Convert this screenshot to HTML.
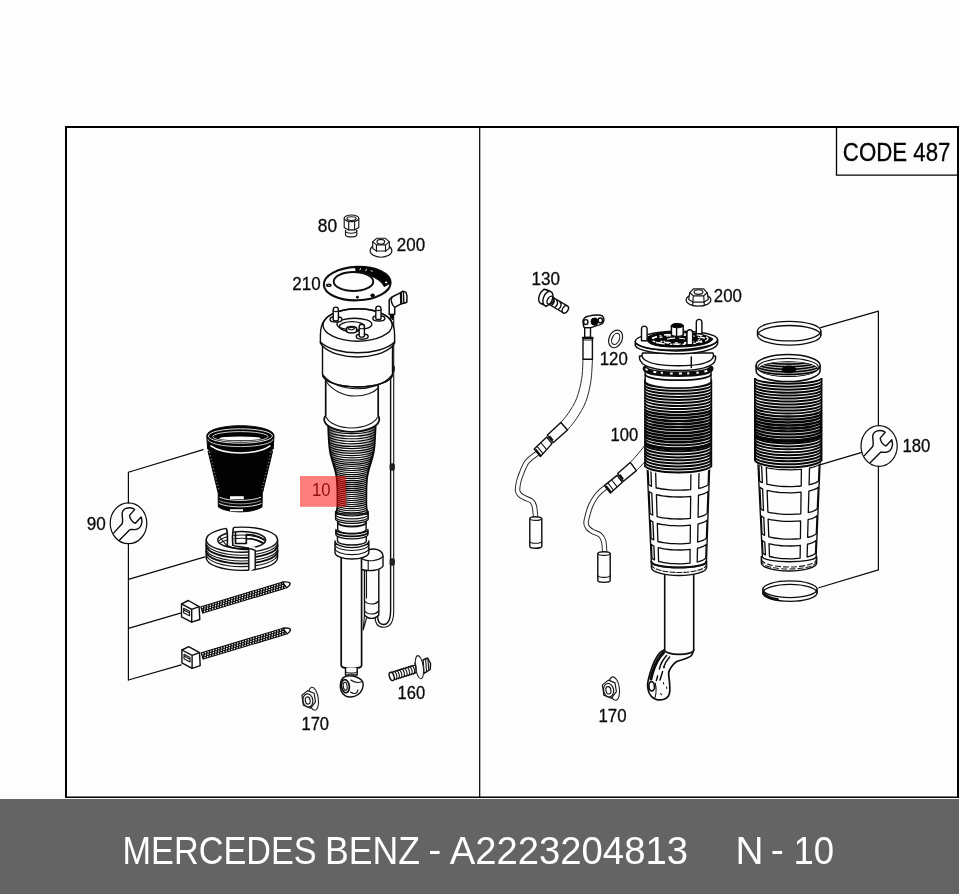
<!DOCTYPE html>
<html lang="en">
<head>
<meta charset="utf-8">
<title>MERCEDES BENZ - A2223204813 N - 10</title>
<style>
html,body{margin:0;padding:0;background:#fdfdfd;}
body{width:959px;height:894px;overflow:hidden;position:relative;font-family:"Liberation Sans",sans-serif;}
#dia{position:absolute;left:0;top:0;width:959px;height:894px;display:block;will-change:transform;}
#dia text{font-family:"Liberation Sans",sans-serif;}
.l{fill:none;stroke:#0d0d0d;stroke-width:1.4;stroke-linecap:round;stroke-linejoin:round;}
.t{fill:none;stroke:#161616;stroke-width:1.1;stroke-linecap:round;stroke-linejoin:round;}
.w{fill:#fdfdfd;stroke:#0d0d0d;stroke-width:1.4;stroke-linecap:round;stroke-linejoin:round;}
.k{fill:#030303;stroke:#030303;stroke-width:1;stroke-linejoin:round;}
.ld{fill:none;stroke:#0a0a0a;stroke-width:1.2;stroke-linecap:round;stroke-linejoin:round;}
.thin .l,.thin .w{stroke-width:1.15;stroke:#161616;}
.wl{fill:none;stroke:#fdfdfd;stroke-width:.9;}
.wf{fill:#fdfdfd;stroke:none;}
</style>
</head>
<body>
<svg id="dia" width="959" height="894" viewBox="0 0 959 894">
<rect x="0" y="0" width="959" height="894" fill="#fdfdfd"/>
<!-- footer bar -->
<rect x="0" y="799" width="959" height="95" fill="#646464"/>
<text id="caption" fill="#ffffff" font-size="38.8" y="863.8" xml:space="preserve"><tspan x="122.6" textLength="194" lengthAdjust="spacingAndGlyphs">MERCEDES</tspan><tspan x="316.6" font-size="8"> </tspan><tspan x="325.1" textLength="95" lengthAdjust="spacingAndGlyphs">BENZ</tspan><tspan x="421" font-size="8"> </tspan><tspan x="428.2" y="862.7" font-size="39.2" textLength="13.05" lengthAdjust="spacingAndGlyphs">-</tspan><tspan x="442" font-size="8"> </tspan><tspan x="449.7" y="863.8" textLength="238.3" lengthAdjust="spacingAndGlyphs">A2223204813</tspan><tspan x="700" font-size="8">     </tspan><tspan x="735.5" textLength="28" lengthAdjust="spacingAndGlyphs">N</tspan><tspan x="764" font-size="8"> </tspan><tspan x="770.7" y="862.7" font-size="39.2" textLength="13.1" lengthAdjust="spacingAndGlyphs">-</tspan><tspan x="785" font-size="8"> </tspan><tspan x="793.5" y="863.8" textLength="40.6" lengthAdjust="spacingAndGlyphs">10</tspan></text>
<!-- frame -->
<g id="frame" fill="none" stroke="#000">
<path d="M66,798 V127 H958 V798" stroke-width="2"/>
<path d="M65,797.3 H959" stroke-width="1.6"/>
<path d="M479.7,128 V797" stroke-width="1.2"/>
<path d="M836.5,128 V175.1 H957" stroke-width="1.3"/>
</g>
<text x="842.83" y="160.85" font-size="26.2" fill="#050505" stroke="#050505" stroke-width=".3" textLength="107.61" lengthAdjust="spacingAndGlyphs">CODE 487</text>
<!--PARTS-->
<!-- tool kit bracket 90 -->
<g>
<path class="ld" d="M128.4,472.3 V503 M128.4,543.6 V680"/>
<path class="ld" d="M128.4,472.3 L203.2,449.6"/>
<path class="ld" d="M128.4,579.4 L205,556.9"/>
<path class="ld" d="M128.4,628.3 L180.4,613.2"/>
<path class="ld" d="M128.4,680 L181.2,664.9"/>
<ellipse class="ld" cx="128.5" cy="523.3" rx="18.3" ry="20.4"/>
<path class="l" d="M113.8,532.9 L122.1,523.8 C123.2,521.5 122.3,517.5 122.1,514.2 C122.1,511.5 124,509 126.7,508.2 C129.5,507.5 133,508 134.6,509.6 L129.6,515.4 C129.6,518 132,522.3 135.4,523.3 L141.2,517.1 C142.2,520 142,523 141.2,525 C140.2,527.5 137.5,529.4 135,529.6 C133,529.8 131.5,529.3 130,529.6 L119.6,540"/>
</g>
<!-- rubber boot -->
<g>
<path class="k" d="M208,451 C215,455 265,455 272.6,451 L262.6,492.5 C255,497.5 225,497.5 218,492.5 Z"/>
<path class="k" d="M206.8,435.5 A33.6,9.8 0 0 1 274,435.5 L273.2,449 C268,456.5 213,456.5 207.6,449 Z"/>
<ellipse class="wl" cx="240.4" cy="436" rx="32" ry="7.2" style="stroke-width:.9"/>
<ellipse class="wl" cx="240.4" cy="436.6" rx="27.6" ry="5" style="stroke-width:.8"/>
<ellipse class="wf" cx="240" cy="438.4" rx="20.6" ry="1.9"/>
<path class="wl" d="M208,439.4 A32.4,7.2 0 0 0 272.8,439.4" style="stroke-width:.8"/>
<path class="wl" d="M210.4,445.6 C218,451 230,452.9 240.4,452.9 C251,452.9 263,451 270.4,445.6" style="stroke-width:1.5"/>
<path class="wl" d="M209.5,452 L219,491 M271,452 L261.6,491" style="stroke-width:.7" stroke-dasharray="1 2.4"/>
<path class="k" d="M218.2,492.5 C228,497.5 252,497.5 262.3,492.5 L262,507 C252,513.5 228,513.5 218.3,507 Z"/>
<path class="wl" d="M219.5,497.2 C229,501.5 251,501.5 261,497.2"/>
<path class="wl" d="M219,503.5 C229,508 251,508 261.5,503.5"/>
<path class="wf" d="M230,496.2 h13.8 v3 h-13.8 Z"/>
<path class="wf" d="M230,509.2 h13 v2 h-13 Z"/>
<path class="wl" d="M219.5,500.6 C229,505 251,505 261,500.6" style="stroke-width:.6"/>
</g>
<!-- split ring -->
<g>
<path class="w" d="M206.2,539.7 V557.8 A35.7,12.6 0 0 0 277.6,557.8 V539.7 Z"/>
<path class="t" d="M206.2,542.6 A35.7,12.6 0 0 0 277.6,542.6 M206.2,548.4 A35.7,12.6 0 0 0 277.6,548.4 M206.2,554 A35.7,12.6 0 0 0 277.6,554"/>
<path class="l" d="M206.2,545.3 A35.7,12.6 0 0 0 277.6,545.3 M206.2,551 A35.7,12.6 0 0 0 277.6,551" style="stroke-width:1.9"/>
<ellipse class="w" cx="241.9" cy="539.7" rx="35.7" ry="12.6"/>
<ellipse class="w" cx="241.7" cy="540" rx="24" ry="8.5"/>
<clipPath id="cpsr"><ellipse cx="241.7" cy="540" rx="24" ry="8.5"/></clipPath>
<path class="t" d="M217.7,543.5 A24,8.5 0 0 1 265.7,543.5 M217.7,546.8 A24,8.5 0 0 1 265.7,546.8" clip-path="url(#cpsr)"/>
<path class="l" d="M235.5,532.5 V543.5 H246.3 V534.5 C252,534.5 259,536 264,539.5 M246.3,538.5 C252,538.5 258,540 262.5,543" clip-path="url(#cpsr)" style="stroke-width:1.7"/>
<path class="t" d="M219.3,536.5 C222,540 225,543.5 227.5,546.5" clip-path="url(#cpsr)"/>
<path class="wf" d="M226.6,526 L233.3,525 L233.3,545.5 L227.3,545.5 Z"/>
<path class="l" d="M226.7,529.2 C227.8,534 227.6,540 227.3,545.5 M233.3,528.3 C232.3,534 232.3,540 232.8,545.3" style="stroke-width:1.6"/>
<path class="wf" d="M248.8,546.5 L255.2,546.5 L255.2,568 L248.8,572 Z"/>
<path class="l" d="M248.8,549.5 V569.8 M255.2,550.5 V568.6 M227.3,545.5 C233,548.5 242,549.8 248.8,549.6 M232.8,545.3 C238,546.8 250,547.6 255.2,550.5"/>
</g>
<!-- cable tie -->
<g transform="translate(0 0)">
<path d="M201.2,610.1 L284.5,585" fill="none" stroke="#060606" stroke-width="7.6"/>
<path d="M201.8,607.7 L283.9,582.9" fill="none" stroke="#fdfdfd" stroke-width="1.3" stroke-dasharray="1.3 1.5" stroke-dashoffset="0"/>
<path d="M202.4,609.7 L284.5,585" fill="none" stroke="#fdfdfd" stroke-width="1.3" stroke-dasharray="1.3 1.5" stroke-dashoffset="0.9"/>
<path d="M203,611.8 L285.1,587.1" fill="none" stroke="#fdfdfd" stroke-width="1.3" stroke-dasharray="1.3 1.5" stroke-dashoffset="1.8"/>
<path class="w" d="M282.5,582.1 C286,581.6 289.5,582.2 290.2,583.6 C290,585.3 288.5,586.8 286.6,587.9 Z"/>
<path class="w" d="M181.5,603.9 L188.3,600.5 L199.1,606.6 L199.8,619.5 L191.7,622.2 L181.5,616.8 Z"/>
<path class="l" d="M181.5,603.9 L191.7,609.3 L199.1,606.6 M191.7,609.3 V622.2"/>
<path class="t" d="M183.6,608.2 L189.6,611.3 V615.8 L183.6,612.7 Z M183.6,610 L189.6,613.1"/>
</g>
<!-- cable tie -->
<g transform="translate(0.4 46.1)">
<path d="M201.2,610.1 L284.5,585" fill="none" stroke="#060606" stroke-width="7.6"/>
<path d="M201.8,607.7 L283.9,582.9" fill="none" stroke="#fdfdfd" stroke-width="1.3" stroke-dasharray="1.3 1.5" stroke-dashoffset="0"/>
<path d="M202.4,609.7 L284.5,585" fill="none" stroke="#fdfdfd" stroke-width="1.3" stroke-dasharray="1.3 1.5" stroke-dashoffset="0.9"/>
<path d="M203,611.8 L285.1,587.1" fill="none" stroke="#fdfdfd" stroke-width="1.3" stroke-dasharray="1.3 1.5" stroke-dashoffset="1.8"/>
<path class="w" d="M282.5,582.1 C286,581.6 289.5,582.2 290.2,583.6 C290,585.3 288.5,586.8 286.6,587.9 Z"/>
<path class="w" d="M181.5,603.9 L188.3,600.5 L199.1,606.6 L199.8,619.5 L191.7,622.2 L181.5,616.8 Z"/>
<path class="l" d="M181.5,603.9 L191.7,609.3 L199.1,606.6 M191.7,609.3 V622.2"/>
<path class="t" d="M183.6,608.2 L189.6,611.3 V615.8 L183.6,612.7 Z M183.6,610 L189.6,613.1"/>
</g>
<!-- fitting 80 -->
<g class="thin">
<path class="w" d="M345.5,230 V235 A5.7,2.2 0 0 0 356.8,235 V230"/>
<path class="t" d="M345.5,231 A5.6,2.2 0 0 0 356.7,231"/>
<path class="w" d="M344.2,218.4 V227.6 L348.6,229.9 L354.6,229.9 L358.8,227.6 V218.4 Z"/>
<ellipse class="w" cx="351.5" cy="218.3" rx="7.3" ry="3.3"/>
<ellipse class="l" cx="351.5" cy="218.6" rx="4.6" ry="1.9"/>
<path class="l" d="M348.7,221.4 V229.8 M354.6,221.4 V229.8"/>
</g>
<!-- nut 200 -->
<g class="thin">
<ellipse class="w" cx="381" cy="250.7" rx="10.9" ry="6.5"/>
<path class="w" d="M372.7,241.9 l3.8,-3.6 h9 l3.8,3.6 v6.5 l-3.8,2.6 h-9 l-3.8,-2.6 Z"/>
<path class="l" d="M372.7,241.9 l3.8,3 h9 l3.8,-3 M376.5,244.9 v6.5 M385.5,244.9 v6.5"/>
<ellipse class="l" cx="380.8" cy="241.7" rx="3.8" ry="2.4"/>
</g>
<!-- gasket 210 -->
<g>
<ellipse class="w" cx="357.2" cy="283.6" rx="33.4" ry="16.7" transform="rotate(-2 357.2 283.6)" style="stroke-width:2.1"/>
<path class="k" d="M355.5,266.8 C371,266.3 388.5,272 390.7,283 L384.2,286.6 C381,280 372,274.8 356,271.6 Z"/>
<ellipse class="w" cx="353.5" cy="281.5" rx="19.8" ry="9.5" style="stroke-width:1.9"/>
<ellipse class="l" cx="328.8" cy="285.3" rx="2.2" ry="1.1"/>
<ellipse class="k" cx="357.4" cy="297.2" rx="1.1" ry="1"/>
<ellipse class="k" cx="372.6" cy="295.4" rx="1.9" ry="1.4"/>
<ellipse class="wf" cx="386.2" cy="282.4" rx="1.3" ry="0.9"/>
<path class="wl" d="M360.5,268.2 l-.6,2.2 M366.5,268.8 l-.8,2.4 M371,270.2 l1.5,1.8"/>
</g>
<!-- sensor cable -->
<g>
<path class="l" d="M390.6,313 V610 C390.6,620 388,624.5 383.5,624.5 C379.5,624.5 377.6,621 377.6,616 V590"/>
<path class="t" d="M393.7,313 V611 C393.7,622 389.5,627.3 383.5,627.3 C377.5,627.3 375,622.5 375,616"/>
<path class="w" d="M389.2,314.4 V300.6 C389.2,299.4 389.6,298.8 390.6,298 L392,297 L400.7,292.6 L402.7,291.2 L405.9,292.1 L407,296.1 L406.8,302.3 L404.1,303.3 L401,303.8 L394.7,307.3 V314.2 Z" style="stroke-width:1.5"/>
<path class="l" d="M400.9,292.8 L401.2,303.6" style="stroke-width:2.2"/>
<path class="l" d="M403.4,291.6 L403.8,303.2 M392,297.2 C390.6,300 391.4,304.4 394.7,307.3"/>
<path class="k" d="M390.2,314.4 L392.6,320 L393.6,314.4 Z"/>
<rect x="390" y="365.6" width="4.4" height="6.4" rx="1.4" fill="#222" stroke="#111" stroke-width=".8"/>
<rect x="390" y="463.8" width="4.4" height="6.4" rx="1.4" fill="#222" stroke="#111" stroke-width=".8"/>
<rect x="390" y="558.8" width="4.4" height="6.4" rx="1.4" fill="#222" stroke="#111" stroke-width=".8"/>
</g>
<!-- air spring strut 10 -->
<g>
<path class="w" d="M341.2,556 V665.5 A10.2,3 0 0 0 361.6,665.5 V556 Z" style="stroke-width:1.7"/>
<path class="w" d="M345.5,668 V675 H357.2 V668"/>
<path class="t" d="M345.6,671.5 A5.8,1.6 0 0 0 357.2,671.5"/>
<path class="w" d="M346,676.2 C352,675 360,677 362.8,682 C364,686 362.4,691.6 357.6,694.8 C353.6,697.6 348,697.6 345,695.6 C341,692.8 339.8,687.2 340.6,682.6 C341.4,678.8 343,677 346,676.2 Z"/>
<ellipse class="l" cx="345.4" cy="686.2" rx="3.9" ry="6.6" transform="rotate(-8 345.4 686.2)" style="stroke-width:1.7"/>
<ellipse class="t" cx="345.2" cy="686.3" rx="1.9" ry="4" transform="rotate(-8 345.2 686.3)"/>
<path class="t" d="M350.8,680 C355,683 358,683.5 362.4,681.5 M350.5,692 C354,694.5 357,694 358,690"/>
<path class="w" d="M364.5,566 V615 C368,619.5 375,619.5 378.8,615 V566 Z"/>
<path class="t" d="M364.5,601 C368,605 375,605 378.8,601 M364.5,611 C368,615 375,615 378.8,611 M366.5,570 V598"/>
<path class="t" d="M364.5,615 L363.2,630 L366.5,618"/>
<path class="w" d="M361.6,557 C363,552 368,548.8 374,549 C379,549.3 383,552 383,556 V566 C381,570 370,572 361.6,569.5 Z"/>
<path class="t" d="M361.8,558.5 C366,562 378,561.5 383,556.5 M368.2,561 V570.5"/>
<path class="w" d="M335,541 A16.9,6.6 0 0 0 368.8,541 V552.4 A16.9,6.6 0 0 1 335,552.4 Z"/>
<path class="t" d="M335,544.5 A16.9,6 0 0 0 368.8,544.5 M335,548.2 A16.9,6.4 0 0 0 368.8,548.2"/>
<path class="w" d="M337.5,533 A14.4,4 0 0 0 366.3,533 V541 A14.4,4 0 0 1 337.5,541 Z"/>
<path class="w" d="M335.9,529.5 A16,4.4 0 0 0 367.9,529.5 V534.5 A16,4.4 0 0 1 335.9,534.5 Z"/>
<path class="l" d="M335.9,532 A16,4.4 0 0 0 367.9,532" style="stroke-width:1.8"/>
<path class="w" d="M337.7,519 A14.2,4 0 0 0 366.1,519 V529.5 A14.2,4 0 0 1 337.7,529.5 Z"/>
<path class="l" d="M337.7,522.5 A14.2,4 0 0 0 366.1,522.5" style="stroke-width:1.8"/>
<path class="w" d="M335.6,511.5 A16.3,4.4 0 0 0 368.2,511.5 V519 A16.3,4.4 0 0 1 335.6,519 Z"/>
<path class="t" d="M335.6,514.5 A16.3,4.4 0 0 0 368.2,514.5 M335.6,517 A16.3,4.4 0 0 0 368.2,517"/>
<clipPath id="cpb1"><path d="M328,424 C328.1,425.8 328.2,430.8 328.4,434.5 C328.6,438.2 328.9,443 329.2,446.3 C329.5,449.6 329.8,451.5 330.4,454.1 C330.9,456.7 331.8,459.3 332.5,461.9 C333.2,464.5 334.3,467.5 334.9,469.7 C335.5,471.9 335.8,473.5 336.1,475 C336.4,476.5 336.5,476.9 336.6,478.6 C336.8,480.3 337,482.8 337.1,485 C337.2,487.2 337.3,488.6 337.3,492 C337.3,495.4 337.5,502 337.3,505.7 C337.1,509.4 336.3,512.6 336.1,514 L367.7,514 C367.5,512.6 366.7,509.4 366.5,505.7 C366.3,502 366.5,495.4 366.5,492 C366.5,488.6 366.6,487.2 366.7,485 C366.8,482.8 367,480.3 367.1,478.6 C367.3,476.9 367.4,476.5 367.7,475 C368,473.5 368.3,471.9 368.9,469.7 C369.5,467.5 370.5,464.5 371.3,461.9 C372,459.3 372.8,456.7 373.4,454.1 C373.9,451.5 374.3,449.6 374.6,446.3 C374.9,443 375.1,438.2 375.3,434.5 C375.5,430.8 375.7,425.8 375.8,424 Z"/></clipPath>
<path class="w" d="M328,424 C328.1,425.8 328.2,430.8 328.4,434.5 C328.6,438.2 328.9,443 329.2,446.3 C329.5,449.6 329.8,451.5 330.4,454.1 C330.9,456.7 331.8,459.3 332.5,461.9 C333.2,464.5 334.3,467.5 334.9,469.7 C335.5,471.9 335.8,473.5 336.1,475 C336.4,476.5 336.5,476.9 336.6,478.6 C336.8,480.3 337,482.8 337.1,485 C337.2,487.2 337.3,488.6 337.3,492 C337.3,495.4 337.5,502 337.3,505.7 C337.1,509.4 336.3,512.6 336.1,514 L367.7,514 C367.5,512.6 366.7,509.4 366.5,505.7 C366.3,502 366.5,495.4 366.5,492 C366.5,488.6 366.6,487.2 366.7,485 C366.8,482.8 367,480.3 367.1,478.6 C367.3,476.9 367.4,476.5 367.7,475 C368,473.5 368.3,471.9 368.9,469.7 C369.5,467.5 370.5,464.5 371.3,461.9 C372,459.3 372.8,456.7 373.4,454.1 C373.9,451.5 374.3,449.6 374.6,446.3 C374.9,443 375.1,438.2 375.3,434.5 C375.5,430.8 375.7,425.8 375.8,424 Z" style="stroke-width:1.6"/>
<path class="l" d="M327.5,422 A24.4,6.4 0 0 0 376.3,422 M327.6,424.6 A24.3,6.4 0 0 0 376.2,424.6 M327.7,427.2 A24.2,6.4 0 0 0 376.1,427.2 M327.8,429.9 A24.1,6.3 0 0 0 376,429.9 M328,432.5 A23.9,6.3 0 0 0 375.8,432.5 M328.1,435.1 A23.8,6.3 0 0 0 375.7,435.1 M328.3,437.6 A23.6,6.2 0 0 0 375.5,437.6 M328.5,440.2 A23.4,6.2 0 0 0 375.3,440.2 M328.7,442.6 A23.2,6.1 0 0 0 375.1,442.6 M329,445.1 A22.9,6 0 0 0 374.8,445.1 M329.4,447.5 A22.5,5.9 0 0 0 374.4,447.5 M329.8,449.9 A22.1,5.8 0 0 0 374,449.9 M330.4,452.3 A21.5,5.6 0 0 0 373.4,452.3 M331,454.7 A20.9,5.5 0 0 0 372.8,454.7 M331.7,457 A20.2,5.3 0 0 0 372.1,457 M332.3,459.3 A19.6,5.1 0 0 0 371.5,459.3 M333,461.5 A18.9,4.9 0 0 0 370.8,461.5 M333.7,463.7 A18.2,4.8 0 0 0 370.1,463.7 M334.4,465.9 A17.5,4.6 0 0 0 369.4,465.9 M334.8,468.1 A17.1,4.4 0 0 0 369,468.1 M335.3,470.3 A16.6,4.3 0 0 0 368.5,470.3 M335.7,472.4 A16.2,4.2 0 0 0 368.1,472.4 M336,474.5 A15.9,4.1 0 0 0 367.8,474.5 M336.2,476.6 A15.7,4.1 0 0 0 367.6,476.6 M336.3,478.6 A15.6,4 0 0 0 367.5,478.6 M336.5,480.6 A15.4,4 0 0 0 367.3,480.6 M336.5,482.6 A15.4,4 0 0 0 367.3,482.6 M336.6,484.6 A15.3,4 0 0 0 367.2,484.6 M336.7,486.6 A15.2,4 0 0 0 367.1,486.6 M336.7,488.6 A15.2,3.9 0 0 0 367.1,488.6 M336.7,490.6 A15.2,3.9 0 0 0 367.1,490.6 M336.7,492.6 A15.2,3.9 0 0 0 367.1,492.6 M336.7,494.6 A15.2,3.9 0 0 0 367.1,494.6 M336.7,496.6 A15.2,3.9 0 0 0 367.1,496.6 M336.7,498.6 A15.2,3.9 0 0 0 367.1,498.6 M336.7,500.6 A15.2,3.9 0 0 0 367.1,500.6 M336.6,502.6 A15.3,4 0 0 0 367.2,502.6 M336.3,504.6 A15.6,4.1 0 0 0 367.5,504.6 M336,506.6 A15.9,4.1 0 0 0 367.8,506.6 M335.7,508.6 A16.2,4.2 0 0 0 368.1,508.6 M335.5,510.6 A16.4,4.3 0 0 0 368.3,510.6 M335.5,512.6 A16.4,4.3 0 0 0 368.3,512.6 M335.5,514.6 A16.4,4.3 0 0 0 368.3,514.6" style="stroke-width:1.15;stroke:#080808" clip-path="url(#cpb1)"/>
<linearGradient id="lgb1" x1="0" y1="0" x2="1" y2="0"><stop offset="0" stop-color="#000" stop-opacity=".6"/><stop offset=".22" stop-color="#000" stop-opacity=".18"/><stop offset=".4" stop-color="#000" stop-opacity="0"/><stop offset=".6" stop-color="#000" stop-opacity="0"/><stop offset=".78" stop-color="#000" stop-opacity=".18"/><stop offset="1" stop-color="#000" stop-opacity=".6"/></linearGradient>
<rect x="328" y="424" width="47.8" height="92" fill="url(#lgb1)" clip-path="url(#cpb1)"/>
<path class="w" d="M325.7,376 V416 C324.2,417 323.9,419 324.4,421 C326,427 338,431.8 351.7,431.8 C365.4,431.8 377.4,427 379,421 C379.5,419 379.2,417 378.2,416 V376 Z" style="stroke-width:1.7"/>
<path class="t" d="M326.4,417.4 C329,423 339,428 351.7,428 C364.4,428 374.4,423 377.4,417.4"/>
<path class="w" d="M320.4,343 V335.5 C320.4,329 321.8,323.5 324.7,320 A34.6,16.2 0 0 1 390.5,320 C393.4,323.5 394.6,329 394.6,335.5 V343 L392.5,346 V374 A35,13 0 0 1 322.5,374 V346 Z"/>
<path class="l" d="M322.5,374 A35,13 0 0 0 392.5,374"/>
<path class="t" d="M325.7,381 C333,391.5 345,396 355,396 C365,396 374,392.5 378.2,388"/>
<path class="t" d="M323.4,375.4 C332,385.4 346,388.6 357.5,388.8 C369,388.6 384,385 391.6,375.4"/>
<path class="l" d="M320.4,342 C328,349.5 344,352.8 357.5,352.8 C371,352.8 387,349.5 394.6,342"/>
<path class="l" d="M322.5,346 C330,353.8 345,357 357.5,357 C370,357 385,353.8 392.5,346"/>
<ellipse class="l" cx="357.6" cy="325" rx="34.6" ry="16.2"/>
<ellipse class="l" cx="354.4" cy="324.2" rx="17.4" ry="6"/>
<ellipse class="l" cx="352" cy="326.6" rx="12.6" ry="5"/>
<path class="w" d="M346.6,331 V328.6 A5,2 0 0 1 356.6,328.6 V331 A5,2 0 0 1 346.6,331 Z" style="stroke-width:1.6"/>
<ellipse class="t" cx="351.4" cy="328.6" rx="3" ry="1.2"/>
<ellipse class="w" cx="336" cy="319.4" rx="6" ry="2.6"/>
<path class="w" d="M333.2,319.8 V309.8 C333.3,306.2 338.3,306.2 338.4,309.8 V319.8 A2.6,1.1 0 0 1 333.2,319.8 Z"/>
<path class="t" d="M333.2,310.6 A2.6,1 0 0 0 338.4,310.6"/>
<ellipse class="w" cx="378.8" cy="318.4" rx="6" ry="2.6"/>
<path class="w" d="M375.8,318.4 V308.8 C375.9,305.2 380.9,305.2 381,308.8 V318.4 A2.6,1.1 0 0 1 375.8,318.4 Z"/>
<path class="t" d="M375.8,309.6 A2.6,1 0 0 0 381,309.6"/>
<ellipse class="w" cx="362.2" cy="336.6" rx="6" ry="2.6"/>
<path class="w" d="M359.2,336 V327 C359.3,323.4 364.3,323.4 364.4,327 V336 A2.6,1.1 0 0 1 359.2,336 Z"/>
<path class="t" d="M359.2,327.8 A2.6,1 0 0 0 364.4,327.8"/>
</g>
<text x="311.96" y="495.65" font-size="18.7" fill="#1a1a1a" stroke="#1a1a1a" stroke-width="0" textLength="18.64" lengthAdjust="spacingAndGlyphs">10</text>
<rect x="300" y="476" width="46.2" height="30.8" fill="#ff0000" fill-opacity=".5"/>
<!-- bolt 160 -->
<g>
<path class="w" d="M423,660 L427.6,658 L430.6,663.5 L430.2,669.5 L424,673.4 Z"/>
<path class="t" d="M425.6,659 L426.6,671.8 M427.9,658.6 L428.8,670.4"/>
<path d="M391.6,676.4 L416,668.8" fill="none" stroke="#0d0d0d" stroke-width="8.8" stroke-linecap="butt"/>
<path d="M390.6,676.7 L417,668.5" fill="none" stroke="#fdfdfd" stroke-width="6.4" stroke-linecap="butt"/>
<ellipse class="w" cx="391.7" cy="676.4" rx="2.3" ry="4.3" transform="rotate(-17 391.7 676.4)"/>
<path class="t" d="M393.1,671.4 A2.3,4.3 -17 0 1 395.6,679.7 M395.6,670.6 A2.3,4.3 -17 0 1 398.1,678.9 M398.1,669.8 A2.3,4.3 -17 0 1 400.6,678.1 M400.7,669 A2.3,4.3 -17 0 1 403.2,677.3 M403.2,668.2 A2.3,4.3 -17 0 1 405.8,676.5 M405.8,667.4 A2.3,4.3 -17 0 1 408.3,675.7 M408.4,666.6 A2.3,4.3 -17 0 1 410.9,674.9 M410.9,665.8 A2.3,4.3 -17 0 1 413.4,674.1"/>
<ellipse class="w" cx="419.4" cy="667.2" rx="3.9" ry="11.7" transform="rotate(-8 419.4 667.2)" style="stroke-width:1.1;stroke:#222"/>
<path class="t" d="M414.6,663.2 C416.3,664.6 416.8,669 415.6,672.6"/>
</g>
<!-- nut 170 -->
<g class="thin">
<ellipse class="w" cx="313.4" cy="698.8" rx="4.9" ry="11.6" transform="rotate(-8 313.4 698.8)" style="stroke-width:1.1;stroke:#222"/>
<path class="w" d="M301.9,695.2 l5.8,-4.6 l6.4,2.6 l1.4,8.6 l-5,6.4 l-7.2,-3 Z"/>
<ellipse class="l" cx="307.9" cy="700.4" rx="4.9" ry="6.6" transform="rotate(-10 307.9 700.4)"/>
<ellipse class="l" cx="307.7" cy="700.5" rx="2.4" ry="3.6" transform="rotate(-10 307.7 700.5)"/>
</g>
<!-- labels left -->
<g>
<text x="317.73" y="231.65" font-size="18.7" fill="#0a0a0a" stroke="#0a0a0a" stroke-width=".3" textLength="19.34" lengthAdjust="spacingAndGlyphs">80</text>
<text x="396.84" y="251.45" font-size="18.7" fill="#0a0a0a" stroke="#0a0a0a" stroke-width=".3" textLength="28.27" lengthAdjust="spacingAndGlyphs">200</text>
<text x="292.35" y="289.65" font-size="18.7" fill="#0a0a0a" stroke="#0a0a0a" stroke-width=".3" textLength="28.32" lengthAdjust="spacingAndGlyphs">210</text>
<text x="86.63" y="529.65" font-size="18.7" fill="#0a0a0a" stroke="#0a0a0a" stroke-width=".3" textLength="19.07" lengthAdjust="spacingAndGlyphs">90</text>
<text x="397.55" y="698.85" font-size="18.7" fill="#0a0a0a" stroke="#0a0a0a" stroke-width=".3" textLength="27.60" lengthAdjust="spacingAndGlyphs">160</text>
<text x="301.44" y="730.05" font-size="18.7" fill="#0a0a0a" stroke="#0a0a0a" stroke-width=".3" textLength="27.61" lengthAdjust="spacingAndGlyphs">170</text>
</g>
<!-- bolt 130 -->
<g>
<path d="M550,300.2 L565.2,309.3" fill="none" stroke="#0d0d0d" stroke-width="9.4" stroke-linecap="butt"/>
<path d="M549,299.6 L565.2,309.3" fill="none" stroke="#fdfdfd" stroke-width="6.8" stroke-linecap="butt"/>
<ellipse class="w" cx="565.3" cy="309.4" rx="2.7" ry="4.1" transform="rotate(31 565.3 309.4)"/>
<path class="l" d="M560.1,302.6 A2.7,4.1 31 0 1 558.4,309.4 M556.6,300.5 A2.7,4.1 31 0 1 554.9,307.3 M553.3,298.5 A2.7,4.1 31 0 1 551.6,305.3"/>
<path class="wf" d="M543.8,289.2 L549.2,290.7 L547.5,306.7 L542.5,304 Z"/>
<ellipse class="w" cx="543.7" cy="296.6" rx="4.5" ry="7.6" transform="rotate(22 543.7 296.6)"/>
<path class="l" d="M543.8,289.2 L549.6,291 M541.6,303.6 L546.4,306.4"/>
<ellipse class="w" cx="547.9" cy="298.6" rx="4.5" ry="7.6" transform="rotate(22 547.9 298.6)"/>
<ellipse class="l" cx="550.4" cy="300.3" rx="2.9" ry="4.4" transform="rotate(31 550.4 300.3)"/>
</g>
<!-- seal ring 120 -->
<g class="thin">
<ellipse class="w" cx="615.6" cy="338.9" rx="6.5" ry="9.2" transform="rotate(24 615.6 338.9)" style="stroke-width:1.2;stroke:#1a1a1a"/>
<ellipse class="t" cx="615.7" cy="338.9" rx="3.6" ry="5.8" transform="rotate(24 615.7 338.9)"/>
</g>
<!-- nut 200 -->
<g class="thin">
<ellipse class="w" cx="698.5" cy="300" rx="12.4" ry="6.2"/>
<path class="w" d="M689.7,292.8 l3.6,-4 h10.4 l3.6,4 l1,6.6 l-4.6,2.8 h-10.4 l-4.6,-2.8 Z"/>
<path class="l" d="M689.7,292.8 l3.6,3 h10.4 l3.6,-3 M693.3,295.8 l-.6,9 M703.7,295.8 l.6,9"/>
<ellipse class="l" cx="698.5" cy="292" rx="4.4" ry="2.3"/>
</g>
<!-- air line 1 -->
<g>
<path d="M537.3,453.4 C536.2,454.2 532.9,456.4 531,458 C529.1,459.6 527.7,460.7 526.2,463 C524.7,465.3 523.2,468.9 522,472 C520.8,475.1 519.4,478.4 518.7,481.5 C518,484.6 517.4,488.2 517.6,490.5 C517.8,492.8 518.8,493.8 520,495 C521.2,496.2 523.1,497 525,498 C526.9,499 530,499.7 531.5,501 C533,502.3 533.6,503.4 534.3,506 C535,508.6 535.4,514.8 535.6,516.6" fill="none" stroke="#222" stroke-width="5.4" stroke-linecap="butt"/>
<path d="M537.3,453.4 C536.2,454.2 532.9,456.4 531,458 C529.1,459.6 527.7,460.7 526.2,463 C524.7,465.3 523.2,468.9 522,472 C520.8,475.1 519.4,478.4 518.7,481.5 C518,484.6 517.4,488.2 517.6,490.5 C517.8,492.8 518.8,493.8 520,495 C521.2,496.2 523.1,497 525,498 C526.9,499 530,499.7 531.5,501 C533,502.3 533.6,503.4 534.3,506 C535,508.6 535.4,514.8 535.6,516.6" fill="none" stroke="#fdfdfd" stroke-width="3.5" stroke-linecap="butt"/>
<path class="w" d="M529.8,518.6 V546.5 A6,1.8 0 0 0 541.8,546.5 V518.6 A6,1.8 0 0 0 529.8,518.6 Z"/>
<path class="t" d="M529.8,518.6 A6,1.8 0 0 0 541.8,518.6 M529.8,541.5 A6,1.8 0 0 0 541.8,541.5"/>
<path class="w" d="M583,359.2 C582.8,362.4 582.8,371.8 581.7,378.3 C580.7,384.8 578.9,392.5 576.7,398.3 C574.5,404.1 570.9,409.3 568.3,413.3 C565.6,417.3 562,421 560.8,422.5 L567.5,430 C569,428.1 573.7,423 576.7,418.3 C579.8,413.6 583.4,407.8 585.8,401.7 C588.1,395.6 589.7,388.8 590.8,381.7 C591.9,374.6 592.2,362.9 592.5,359.2 Z" style="stroke-width:1;stroke:#2a2a2a"/>
<path class="w" d="M560.8,422.5 L567.5,430 L553.4,442.6 L547.4,435 Z"/>
<path d="M549.2,436.2 L552.6,440.6" fill="none" stroke="#111" stroke-width="2.4"/>
<path class="w" d="M546.8,437 L552,443.6 L540.4,456.6 L534.2,449 Z"/>
<path class="t" d="M537.6,446.8 L543,453.6 M541.2,443 L546.6,449.6"/>
<path d="M535.6,449.4 L540.8,455.8" fill="none" stroke="#111" stroke-width="2"/>
<path class="w" d="M584.7,327.5 V337.5 H590.5 V327.5 Z"/>
<path class="w" d="M583,337.4 H592.4 V359.3 H583 Z"/>
<path class="t" d="M583,340 H592.4"/>
<path class="w" d="M583,322.4 C582.6,318.6 585.4,316.4 588.6,316.2 C592,315.2 597,314.8 600.4,315.2 C603.4,315.6 604.2,318.4 603.8,320.8 C603.2,323.8 600.4,325 596.6,325.6 C594,326.6 592,327.4 590.8,327.6 H584.2 C583.4,326 583.2,324.4 583,322.4 Z"/>
<ellipse class="l" cx="585.8" cy="322.1" rx="2.2" ry="2.5"/>
<ellipse class="k" cx="594.5" cy="321.6" rx="3.5" ry="3.6"/>
<ellipse class="l" cx="600.3" cy="320.4" rx="2.2" ry="2.4"/>
<path class="l" d="M583,338 H592.6" style="stroke-width:2.2"/>
</g>
<!-- air line 2 -->
<g>
<path d="M607.5,486 C606.4,486.8 603,489.2 601,491 C599,492.8 597.3,494.7 595.6,497 C593.9,499.3 592.3,502.2 591,505 C589.7,507.8 588.8,510.7 588,513.7 C587.2,516.7 586,520.6 586,523 C586,525.4 586.9,526.6 588,528 C589.1,529.4 590.5,530.3 592.5,531.5 C594.5,532.7 598.1,533.4 600,535 C601.9,536.6 602.8,538.2 603.6,541 C604.4,543.8 604.5,550 604.7,551.8" fill="none" stroke="#222" stroke-width="5.4"/>
<path d="M607.5,486 C606.4,486.8 603,489.2 601,491 C599,492.8 597.3,494.7 595.6,497 C593.9,499.3 592.3,502.2 591,505 C589.7,507.8 588.8,510.7 588,513.7 C587.2,516.7 586,520.6 586,523 C586,525.4 586.9,526.6 588,528 C589.1,529.4 590.5,530.3 592.5,531.5 C594.5,532.7 598.1,533.4 600,535 C601.9,536.6 602.8,538.2 603.6,541 C604.4,543.8 604.5,550 604.7,551.8" fill="none" stroke="#fdfdfd" stroke-width="3.5"/>
<path class="w" d="M597.8,553.6 V580.6 A6.2,1.8 0 0 0 610.2,580.6 V553.6 A6.2,1.8 0 0 0 597.8,553.6 Z"/>
<path class="t" d="M597.8,553.6 A6.2,1.8 0 0 0 610.2,553.6 M597.8,575.6 A6.2,1.8 0 0 0 610.2,575.6"/>
<path class="w" d="M650,436 C649.2,437.5 647.2,441.8 645,445 C642.8,448.2 639.5,452.1 637,455 C634.5,457.9 631.3,461.2 630.2,462.4 L636.4,470.6 C637.2,469.8 639.2,467.9 641,466 C642.8,464.1 645.2,461.3 647,459 C648.8,456.7 651.2,453.2 652,452 Z" style="stroke-width:1;stroke:#2a2a2a"/>
<path class="w" d="M630.2,462.4 L636.4,470.6 L623.4,481.2 L617.6,473.6 Z"/>
<path d="M619.4,474.6 L623,479.4" fill="none" stroke="#111" stroke-width="2.4"/>
<path class="w" d="M617,475.4 L622.4,482.2 L610.4,493 L604.4,485.6 Z"/>
<path class="t" d="M608,483.2 L613.4,490 M611.6,480 L617,486.6"/>
<path d="M605.8,486 L611,492.2" fill="none" stroke="#111" stroke-width="2"/>
</g>
<!-- air spring strut 100 -->
<g>
<path class="w" d="M664.7,649.5 C663.9,650.1 661.3,651.2 659.6,653.1 C657.9,655 656.1,657.8 654.5,661.1 C652.9,664.4 651.3,669 650.2,672.7 C649.1,676.5 648,680.6 647.7,683.6 C647.4,686.6 647.8,688.7 648.4,690.9 C649,693.1 650.2,695.2 651.6,696.7 C653,698.2 654.6,699.2 656.7,699.6 C658.8,700 662,699.9 664,699.3 C666,698.7 667.4,697.4 668.4,696 C669.4,694.6 669.6,693.2 669.8,690.9 C670,688.6 669.7,685.2 669.5,682.2 C669.3,679.2 668.4,675.2 668.7,672.7 C669,670.2 670,668.7 671.3,666.9 C672.6,665.1 674.3,663.1 676.4,661.8 C678.5,660.5 681.2,660.3 683.6,659.3 C686,658.3 689.2,657.6 690.9,656 C692.6,654.4 693.3,650.6 693.8,649.5 Z" style="stroke-width:1.7"/>
<path class="l" d="M663.6,652.6 C659.4,656.6 656,662.6 653.6,669.6 C652.4,673 651.6,676 651,679" style="stroke-width:3"/>
<path class="l" d="M666.6,655.6 C662.6,660 660.4,664.6 659.4,669 M669.6,657 C666.4,660.6 664.6,664 663.6,667.6 M662.6,671.6 L660,680 M657.6,676 L656.4,680.6" style="stroke-width:1.5"/>
<path class="t" d="M655.2,683 C656.4,688 656.4,693 655,697.6"/>
<ellipse class="l" cx="651.7" cy="686.3" rx="2.8" ry="4.6" transform="rotate(-4 651.7 686.3)" style="stroke-width:1.7"/>
<path class="t" d="M664,666 l.4,1.6 M663.4,682.6 l.2,1.4 M666.6,687 l.2,1.4 M660.6,693.6 l1,1"/>
<path class="w" d="M664.7,572 V650 A14.5,4.4 0 0 0 693.7,650 V572 Z" style="stroke-width:1.6"/>
<path class="w" d="M651.4,561.5 V567.5 A27.6,8 0 0 0 706.6,567.5 V561.5 Z"/>
<path class="t" d="M651.4,564.5 A27.6,8 0 0 0 706.6,564.5" stroke-dasharray="5 2"/>
<path class="w" d="M647.2,468 L651.4,562.5 A27.5,5 0 0 0 706.4,562.5 L709.6,468 Z"/>
<path class="t" d="M655.6,471.1 C656.5,471.3 659.5,471.9 661.4,472.2 C663.4,472.5 665.4,472.7 667.3,472.9 C669.3,473.1 671.3,473.2 673.2,473.3 C675.2,473.4 677.2,473.4 679.1,473.4 C681.1,473.4 683,473.3 685,473.2 C687,473.1 689.9,472.9 690.9,472.8 L690.7,489.6 C689.8,489.7 686.9,489.9 685,490 C683,490.1 681.1,490.2 679.2,490.2 C677.3,490.2 675.3,490.2 673.4,490.1 C671.5,490 669.6,489.9 667.7,489.7 C665.7,489.5 663.8,489.3 661.9,489 C660,488.7 657.1,488.1 656.1,487.9 Z" style="stroke-width:1.3;stroke:#0a0a0a"/>
<path class="t" d="M699,471.6 C699.3,471.5 700.1,471.3 700.6,471.2 C701.2,471.1 701.7,470.9 702.3,470.8 C702.8,470.6 703.3,470.5 703.9,470.3 C704.4,470.1 705,469.9 705.5,469.7 C706,469.5 706.6,469.2 707.1,468.9 C707.7,468.6 708.5,468 708.7,467.8 L708.2,484.6 C707.9,484.8 707.1,485.4 706.6,485.7 C706.1,486 705.5,486.3 705,486.5 C704.5,486.7 704,486.9 703.4,487.1 C702.9,487.3 702.4,487.4 701.9,487.6 C701.3,487.7 700.8,487.9 700.3,488 C699.7,488.1 699,488.3 698.7,488.4 Z" style="stroke-width:1.3;stroke:#0a0a0a"/>
<path class="t" d="M648,467.8 C648.1,467.9 648.4,468.1 648.5,468.2 C648.7,468.3 648.8,468.4 649,468.5 C649.1,468.6 649.3,468.7 649.5,468.8 C649.6,468.9 649.8,469 649.9,469.1 C650.1,469.1 650.2,469.2 650.4,469.3 C650.6,469.4 650.8,469.5 650.9,469.5 L651.5,486.3 C651.5,486.3 651.2,486.2 651.1,486.1 C650.9,486 650.8,485.9 650.6,485.9 C650.5,485.8 650.3,485.7 650.2,485.6 C650,485.5 649.8,485.4 649.7,485.3 C649.5,485.2 649.4,485.1 649.2,485 C649.1,484.9 648.9,484.7 648.8,484.6 Z" style="stroke-width:1.3;stroke:#0a0a0a"/>
<path class="t" d="M656.4,494.7 C657.3,494.9 660.2,495.5 662.1,495.8 C664,496.1 665.9,496.3 667.8,496.5 C669.7,496.7 671.6,496.8 673.5,496.9 C675.4,497 677.3,497 679.2,497 C681.1,497 683,496.9 684.9,496.8 C686.8,496.7 689.7,496.5 690.7,496.4 L690.4,518.4 C689.5,518.5 686.7,518.7 684.9,518.8 C683,518.9 681.2,519 679.3,519 C677.5,519 675.6,519 673.8,518.9 C671.9,518.8 670.1,518.7 668.2,518.5 C666.4,518.3 664.5,518.1 662.7,517.8 C660.8,517.5 658,516.9 657.1,516.7 Z" style="stroke-width:1.3;stroke:#0a0a0a"/>
<path class="t" d="M698.5,495.2 C698.8,495.1 699.6,494.9 700.1,494.8 C700.6,494.7 701.2,494.5 701.7,494.4 C702.2,494.2 702.7,494.1 703.3,493.9 C703.8,493.7 704.3,493.5 704.8,493.3 C705.3,493.1 705.9,492.8 706.4,492.5 C706.9,492.2 707.7,491.6 708,491.4 L707.2,513.4 C707,513.6 706.2,514.2 705.7,514.5 C705.2,514.8 704.7,515.1 704.2,515.3 C703.7,515.5 703.2,515.7 702.7,515.9 C702.2,516.1 701.7,516.2 701.1,516.4 C700.6,516.5 700.1,516.7 699.6,516.8 C699.1,516.9 698.3,517.1 698.1,517.2 Z" style="stroke-width:1.3;stroke:#0a0a0a"/>
<path class="t" d="M649.1,491.4 C649.1,491.5 649.4,491.7 649.5,491.8 C649.7,491.9 649.8,492 650,492.1 C650.1,492.2 650.3,492.3 650.4,492.4 C650.6,492.5 650.7,492.6 650.9,492.7 C651,492.7 651.2,492.8 651.3,492.9 C651.5,493 651.7,493.1 651.8,493.1 L652.7,515.1 C652.6,515.1 652.4,515 652.2,514.9 C652.1,514.8 651.9,514.7 651.8,514.7 C651.6,514.6 651.5,514.5 651.3,514.4 C651.2,514.3 651.1,514.2 650.9,514.1 C650.8,514 650.6,513.9 650.5,513.8 C650.3,513.7 650.1,513.5 650,513.4 Z" style="stroke-width:1.3;stroke:#0a0a0a"/>
<path class="t" d="M657.3,523.5 C658.2,523.7 661,524.3 662.8,524.6 C664.7,524.9 666.5,525.1 668.3,525.3 C670.2,525.5 672,525.6 673.8,525.7 C675.7,525.8 677.5,525.8 679.3,525.8 C681.2,525.8 683,525.7 684.9,525.6 C686.7,525.5 689.4,525.3 690.4,525.2 L690.2,543.2 C689.3,543.3 686.6,543.5 684.8,543.6 C683,543.7 681.2,543.8 679.4,543.8 C677.6,543.8 675.8,543.8 674.1,543.7 C672.3,543.6 670.5,543.5 668.7,543.3 C666.9,543.1 665.1,542.9 663.3,542.6 C661.5,542.3 658.8,541.7 657.9,541.5 Z" style="stroke-width:1.3;stroke:#0a0a0a"/>
<path class="t" d="M698,524 C698.2,523.9 699,523.7 699.5,523.6 C700,523.5 700.5,523.3 701,523.2 C701.5,523 702,522.9 702.5,522.7 C703,522.5 703.5,522.3 704,522.1 C704.5,521.9 705,521.6 705.5,521.3 C706,521 706.8,520.4 707,520.2 L706.4,538.2 C706.2,538.4 705.4,539 705,539.3 C704.5,539.6 704,539.9 703.5,540.1 C703,540.3 702.5,540.5 702,540.7 C701.5,540.9 701,541 700.5,541.2 C700,541.3 699.6,541.5 699.1,541.6 C698.6,541.7 697.8,541.9 697.6,542 Z" style="stroke-width:1.3;stroke:#0a0a0a"/>
<path class="t" d="M650.3,520.2 C650.4,520.3 650.6,520.5 650.8,520.6 C650.9,520.7 651,520.8 651.2,520.9 C651.3,521 651.5,521.1 651.6,521.2 C651.8,521.3 651.9,521.4 652.1,521.5 C652.2,521.5 652.4,521.6 652.5,521.7 C652.7,521.8 652.9,521.9 652.9,521.9 L653.7,539.9 C653.6,539.9 653.4,539.8 653.2,539.7 C653.1,539.6 652.9,539.5 652.8,539.5 C652.7,539.4 652.5,539.3 652.4,539.2 C652.2,539.1 652.1,539 652,538.9 C651.8,538.8 651.7,538.7 651.5,538.6 C651.4,538.5 651.2,538.3 651.1,538.2 Z" style="stroke-width:1.3;stroke:#0a0a0a"/>
<path class="t" d="M658.2,547.7 C659,547.9 661.7,548.5 663.5,548.8 C665.3,549.1 667,549.3 668.8,549.5 C670.6,549.7 672.4,549.8 674.1,549.9 C675.9,550 677.7,550 679.5,550 C681.2,550 683,549.9 684.8,549.8 C686.6,549.7 689.2,549.5 690.1,549.4 L690,563.2 C689.1,563.3 686.5,563.5 684.7,563.6 C683,563.7 681.3,563.8 679.5,563.8 C677.8,563.8 676,563.8 674.3,563.7 C672.5,563.6 670.8,563.5 669.1,563.3 C667.3,563.1 665.6,562.9 663.8,562.6 C662.1,562.3 659.5,561.7 658.6,561.5 Z" style="stroke-width:1.3;stroke:#0a0a0a"/>
<path class="t" d="M697.5,548.2 C697.7,548.1 698.4,547.9 698.9,547.8 C699.4,547.7 699.9,547.5 700.4,547.4 C700.9,547.2 701.4,547.1 701.8,546.9 C702.3,546.7 702.8,546.5 703.3,546.3 C703.8,546.1 704.3,545.8 704.8,545.5 C705.3,545.2 706,544.6 706.2,544.4 L705.8,558.2 C705.5,558.4 704.8,559 704.3,559.3 C703.9,559.6 703.4,559.9 702.9,560.1 C702.4,560.3 702,560.5 701.5,560.7 C701,560.9 700.5,561 700,561.2 C699.6,561.3 699.1,561.5 698.6,561.6 C698.1,561.7 697.4,561.9 697.2,562 Z" style="stroke-width:1.3;stroke:#0a0a0a"/>
<path class="t" d="M651.4,544.4 C651.4,544.5 651.6,544.7 651.8,544.8 C651.9,544.9 652.1,545 652.2,545.1 C652.4,545.2 652.5,545.3 652.6,545.4 C652.8,545.5 652.9,545.6 653.1,545.7 C653.2,545.7 653.3,545.8 653.5,545.9 C653.6,546 653.8,546.1 653.9,546.1 L654.5,559.9 C654.4,559.9 654.2,559.8 654,559.7 C653.9,559.6 653.8,559.5 653.6,559.5 C653.5,559.4 653.3,559.3 653.2,559.2 C653.1,559.1 652.9,559 652.8,558.9 C652.7,558.8 652.5,558.7 652.4,558.6 C652.2,558.5 652,558.3 652,558.2 Z" style="stroke-width:1.3;stroke:#0a0a0a"/>
<path class="l" d="M651.3,561.5 A27.5,6 0 0 0 706.3,561.5" style="stroke-width:2"/>
<clipPath id="cpr1"><path d="M644.2,372 V467.2 A34,7.6 0 0 0 712.2,467.2 V372 Z"/></clipPath>
<path d="M644.9,379.4 V467.2 A33.3,7.6 0 0 0 711.5,467.2 V379.4 Z" fill="#fdfdfd" stroke="none"/>
<path d="M644.9,379.4 A33.3,5.4 0 0 0 711.5,379.4 M644.9,382.3 A33.3,5.5 0 0 0 711.5,382.3 M644.9,385.3 A33.3,5.5 0 0 0 711.5,385.3 M644.9,388.2 A33.3,5.6 0 0 0 711.5,388.2 M644.9,391.2 A33.3,5.7 0 0 0 711.5,391.2 M644.9,394.1 A33.3,5.8 0 0 0 711.5,394.1 M644.9,397.1 A33.3,5.8 0 0 0 711.5,397.1 M644.9,400 A33.3,5.9 0 0 0 711.5,400 M644.9,403 A33.3,6 0 0 0 711.5,403 M644.9,405.9 A33.3,6.1 0 0 0 711.5,405.9 M644.9,438.4 A33.3,6.9 0 0 0 711.5,438.4 M644.9,441.3 A33.3,7 0 0 0 711.5,441.3 M644.9,444.3 A33.3,7 0 0 0 711.5,444.3 M644.9,447.2 A33.3,7.1 0 0 0 711.5,447.2 M644.9,450.2 A33.3,7.2 0 0 0 711.5,450.2 M644.9,453.1 A33.3,7.2 0 0 0 711.5,453.1 M644.9,456.1 A33.3,7.3 0 0 0 711.5,456.1 M644.9,459 A33.3,7.4 0 0 0 711.5,459 M644.9,462 A33.3,7.5 0 0 0 711.5,462 M644.9,464.9 A33.3,7.5 0 0 0 711.5,464.9" fill="none" stroke="#060606" stroke-width="2" clip-path="url(#cpr1)"/>
<path d="M644.9,408.9 A33.3,6.1 0 0 0 711.5,408.9 M644.9,411.8 A33.3,6.2 0 0 0 711.5,411.8 M644.9,414.8 A33.3,6.3 0 0 0 711.5,414.8 M644.9,417.7 A33.3,6.4 0 0 0 711.5,417.7 M644.9,420.7 A33.3,6.4 0 0 0 711.5,420.7 M644.9,423.6 A33.3,6.5 0 0 0 711.5,423.6 M644.9,426.6 A33.3,6.6 0 0 0 711.5,426.6 M644.9,429.5 A33.3,6.7 0 0 0 711.5,429.5 M644.9,432.5 A33.3,6.7 0 0 0 711.5,432.5 M644.9,435.4 A33.3,6.8 0 0 0 711.5,435.4" fill="none" stroke="#060606" stroke-width="2.4" clip-path="url(#cpr1)"/>
<path d="M644.9,440.6 A33.3,6.9 0 0 0 711.5,440.6 V443.6 A33.3,7 0 0 1 644.9,443.6 Z" fill="#060606" stroke="none"/>
<path d="M644.9,379.4 V467.2 M711.5,379.4 V467.2" fill="none" stroke="#060606" stroke-width="1.4"/>
<path class="w" d="M645.2,369 V381.5 A33,7 0 0 0 711,381.5 V369 A33,7 0 0 0 645.2,369 Z"/>
<path class="l" d="M645.9,368.8 A32.2,5 0 0 0 710.3,368.8" style="stroke-width:6.4"/>
<path class="wl" d="M645.9,368.6 A32.2,5 0 0 0 710.3,368.6" style="stroke-width:2" stroke-dasharray="2.5 6 3 5 2 7"/>
<path class="wl" d="M647.1,366.4 A31,4.6 0 0 0 709.1,366.4" style="stroke-width:.8"/>
<path class="l" d="M645.3,374.6 A32.8,5.6 0 0 0 710.9,374.6" style="stroke-width:1.8"/>
<path class="w" d="M639.6,356 C639,359 640,361.5 643,364 C655,372.5 700,373 712.5,364 C715.5,361.5 716,358.5 715.4,356 Z" style="stroke-width:1.5"/>
<path class="w" d="M642.5,353 C641.5,355.5 642,358 645,360 C656,367.5 700,368 711,360 C713.5,358 714,355.5 713,353 Z"/>
<path class="l" d="M691.3,357 V367.5" style="stroke-width:1.5"/>
<path class="w" d="M635.3,341.5 V345.8 C640,356 712,357.5 717.6,344 V339.6 Z" style="stroke-width:1.5"/>
<ellipse class="w" cx="676.4" cy="340.6" rx="41.2" ry="9.4" transform="rotate(-1.3 676.4 340.6)" style="stroke-width:1.5"/>
<path class="l" d="M636,343.4 C648,353.5 706,354 717,341.6"/>
<path class="k" d="M647.4,337 C652,334.2 660,332.6 666,332.4 C672,331.6 684,331.8 690,333 C698,333.2 708,335.4 713,339 C711,342.6 704,344.8 694,346 C684,347.4 668,347.4 660,346.2 C652,345 648,343 647.4,340.6 Z"/>
<ellipse class="wl" cx="680" cy="339.2" rx="28" ry="5.2" transform="rotate(-1 680 339.2)" style="stroke-width:1.3" stroke-dasharray="4 3 2 5 6 4 3 3"/>
<ellipse class="wl" cx="679" cy="339" rx="21" ry="3.8" transform="rotate(-1 679 339)" style="stroke-width:1.2" stroke-dasharray="3 4 5 3 2 6"/>
<ellipse class="wl" cx="676.6" cy="341.2" rx="12.4" ry="3" style="stroke-width:1.2" stroke-dasharray="6 3 8 4"/>
<path class="wl" d="M652,338.2 l5,-1.4 M656,342.6 l6,.6 M700,337 l5,1.2 M696,342.4 l6,-1.4 M664,335 l4,-.6" style="stroke-width:1.5"/>
<path class="w" d="M671.4,325.8 V335.2 C674,337 680.5,337 683.2,335.2 V325.8 Z" style="stroke-width:1.5"/>
<ellipse class="k" cx="677.3" cy="325.6" rx="5.9" ry="2.2"/>
<path class="l" d="M676.6,327.5 V336"/>
<path class="w" d="M641.5,340.8 V329 C641.7,325.2 646.9,325.2 647.1,329 V340.8 Z" style="stroke-width:1.4"/>
<path class="w" d="M696.3,333.6 V322.2 C696.5,318.4 701.7,318.4 701.9,322.2 V333.6 Z" style="stroke-width:1.4"/>
<path class="w" d="M687,344.6 V332.6 C687.2,328.8 692.4,328.8 692.6,332.6 V344.6 Z" style="stroke-width:1.4"/>
</g>
<!-- repair kit 180 -->
<g>
<path class="ld" d="M820.6,327.6 L878.4,311.1 V426 M878.4,466 V569.9 L818.8,587.8 M820.6,464.7 L861.9,452.4"/>
<ellipse class="w" cx="879.1" cy="446" rx="18.1" ry="20.4" style="stroke-width:1.2"/>
<path class="l" d="M113.8,532.9 L122.1,523.8 C123.2,521.5 122.3,517.5 122.1,514.2 C122.1,511.5 124,509 126.7,508.2 C129.5,507.5 133,508 134.6,509.6 L129.6,515.4 C129.6,518 132,522.3 135.4,523.3 L141.2,517.1 C142.2,520 142,523 141.2,525 C140.2,527.5 137.5,529.4 135,529.6 C133,529.8 131.5,529.3 130,529.6 L119.6,540" transform="translate(750.6 -77.3)"/>
<path class="wf" d="M757.5,331.1 V335.3 A31.7,9.8 0 0 0 820.9,335.3 V331.1 A31.7,9.8 0 0 0 757.5,331.1 Z"/>
<ellipse class="l" cx="789.2" cy="335.3" rx="31.7" ry="9.8" style="stroke-width:1.3"/>
<ellipse class="l" cx="789.2" cy="331.1" rx="31.7" ry="9.8" style="stroke-width:1.3"/>
<path class="l" d="M757.5,331.1 V335.3 M820.9,331.1 V335.3"/>
<path class="w" d="M761.3,556.6 V563 A27.7,8 0 0 0 816.7,563 V556.6 Z"/>
<path class="t" d="M761.8,559.4 A27.2,7.6 0 0 0 816.2,559.4" stroke-dasharray="5 3"/>
<path class="t" d="M762.4,562.6 A26.6,6.4 0 0 0 815.6,562.6" stroke-dasharray="5 3" stroke-dashoffset="3"/>
<path class="w" d="M757.9,462 L762.4,557 A26.9,5 0 0 0 816.1,557 L820.1,462 Z"/>
<path class="t" d="M766.3,467.5 C767.3,467.7 770.2,468.3 772.2,468.6 C774.1,468.9 776.1,469.1 778,469.3 C780,469.5 781.9,469.6 783.9,469.7 C785.8,469.8 787.8,469.8 789.7,469.8 C791.7,469.8 793.6,469.7 795.6,469.6 C797.5,469.5 800.5,469.3 801.4,469.2 L801.2,486 C800.2,486.1 797.4,486.3 795.5,486.4 C793.6,486.5 791.7,486.6 789.8,486.6 C787.8,486.6 785.9,486.6 784,486.5 C782.1,486.4 780.2,486.3 778.3,486.1 C776.4,485.9 774.5,485.7 772.6,485.4 C770.7,485.1 767.9,484.5 766.9,484.3 Z" style="stroke-width:1.3;stroke:#0a0a0a"/>
<path class="t" d="M809.5,468 C809.8,467.9 810.6,467.7 811.1,467.6 C811.7,467.5 812.2,467.3 812.7,467.2 C813.3,467 813.8,466.9 814.3,466.7 C814.9,466.5 815.4,466.3 815.9,466.1 C816.5,465.9 817,465.6 817.5,465.3 C818.1,465 818.9,464.4 819.2,464.2 L818.5,481 C818.2,481.2 817.4,481.8 816.9,482.1 C816.4,482.4 815.9,482.7 815.3,482.9 C814.8,483.1 814.3,483.3 813.8,483.5 C813.2,483.7 812.7,483.8 812.2,484 C811.7,484.1 811.2,484.3 810.6,484.4 C810.1,484.5 809.3,484.7 809.1,484.8 Z" style="stroke-width:1.3;stroke:#0a0a0a"/>
<path class="t" d="M758.9,464.2 C758.9,464.3 759.2,464.5 759.3,464.6 C759.5,464.7 759.6,464.8 759.8,464.9 C759.9,465 760.1,465.1 760.3,465.2 C760.4,465.3 760.6,465.4 760.7,465.5 C760.9,465.5 761,465.6 761.2,465.7 C761.3,465.8 761.6,465.9 761.6,465.9 L762.4,482.7 C762.3,482.7 762.1,482.6 761.9,482.5 C761.7,482.4 761.6,482.3 761.4,482.3 C761.3,482.2 761.1,482.1 761,482 C760.8,481.9 760.7,481.8 760.5,481.7 C760.4,481.6 760.2,481.5 760.1,481.4 C759.9,481.3 759.7,481.1 759.6,481 Z" style="stroke-width:1.3;stroke:#0a0a0a"/>
<path class="t" d="M767.1,490.5 C768.1,490.7 770.9,491.3 772.8,491.6 C774.7,491.9 776.6,492.1 778.4,492.3 C780.3,492.5 782.2,492.6 784.1,492.7 C786,492.8 787.9,492.8 789.8,492.8 C791.6,492.8 793.5,492.7 795.4,492.6 C797.3,492.5 800.1,492.3 801.1,492.2 L800.8,513.8 C799.8,513.9 797.1,514.1 795.3,514.2 C793.4,514.3 791.6,514.4 789.8,514.4 C788,514.4 786.1,514.4 784.3,514.3 C782.5,514.2 780.7,514.1 778.8,513.9 C777,513.7 775.2,513.5 773.4,513.2 C771.5,512.9 768.8,512.3 767.9,512.1 Z" style="stroke-width:1.3;stroke:#0a0a0a"/>
<path class="t" d="M808.9,491 C809.2,490.9 809.9,490.7 810.4,490.6 C811,490.5 811.5,490.3 812,490.2 C812.5,490 813,489.9 813.6,489.7 C814.1,489.5 814.6,489.3 815.1,489.1 C815.6,488.9 816.1,488.6 816.7,488.3 C817.2,488 818,487.4 818.2,487.2 L817.3,508.8 C817.1,509 816.3,509.6 815.8,509.9 C815.3,510.2 814.8,510.5 814.3,510.7 C813.8,510.9 813.3,511.1 812.8,511.3 C812.3,511.5 811.8,511.6 811.3,511.8 C810.8,511.9 810.3,512.1 809.8,512.2 C809.3,512.3 808.6,512.5 808.3,512.6 Z" style="stroke-width:1.3;stroke:#0a0a0a"/>
<path class="t" d="M759.9,487.2 C760,487.3 760.2,487.5 760.4,487.6 C760.5,487.7 760.7,487.8 760.8,487.9 C761,488 761.1,488.1 761.3,488.2 C761.4,488.3 761.6,488.4 761.7,488.5 C761.9,488.5 762,488.6 762.2,488.7 C762.3,488.8 762.5,488.9 762.6,488.9 L763.5,510.5 C763.4,510.5 763.2,510.4 763.1,510.3 C762.9,510.2 762.8,510.1 762.6,510.1 C762.5,510 762.4,509.9 762.2,509.8 C762.1,509.7 761.9,509.6 761.8,509.5 C761.6,509.4 761.5,509.3 761.3,509.2 C761.2,509.1 761,508.9 760.9,508.8 Z" style="stroke-width:1.3;stroke:#0a0a0a"/>
<path class="t" d="M768.1,519.1 C769,519.3 771.7,519.9 773.6,520.2 C775.4,520.5 777.2,520.7 779,520.9 C780.8,521.1 782.6,521.2 784.4,521.3 C786.2,521.4 788,521.4 789.8,521.4 C791.6,521.4 793.4,521.3 795.2,521.2 C797,521.1 799.7,520.9 800.6,520.8 L800.4,538.6 C799.5,538.7 796.9,538.9 795.1,539 C793.3,539.1 791.6,539.2 789.8,539.2 C788.1,539.2 786.3,539.2 784.6,539.1 C782.8,539 781.1,538.9 779.3,538.7 C777.5,538.5 775.8,538.3 774,538 C772.3,537.7 769.6,537.1 768.8,536.9 Z" style="stroke-width:1.3;stroke:#0a0a0a"/>
<path class="t" d="M808.1,519.6 C808.4,519.5 809.1,519.3 809.6,519.2 C810.1,519.1 810.6,518.9 811.1,518.8 C811.6,518.6 812.1,518.5 812.6,518.3 C813.1,518.1 813.6,517.9 814.1,517.7 C814.6,517.5 815.1,517.2 815.6,516.9 C816.1,516.6 816.8,516 817,515.8 L816.3,533.6 C816.1,533.8 815.4,534.4 814.9,534.7 C814.4,535 813.9,535.3 813.4,535.5 C812.9,535.7 812.5,535.9 812,536.1 C811.5,536.3 811,536.4 810.5,536.6 C810.1,536.7 809.6,536.9 809.1,537 C808.6,537.1 807.9,537.3 807.6,537.4 Z" style="stroke-width:1.3;stroke:#0a0a0a"/>
<path class="t" d="M761.2,515.8 C761.3,515.9 761.5,516.1 761.7,516.2 C761.8,516.3 761.9,516.4 762.1,516.5 C762.2,516.6 762.4,516.7 762.5,516.8 C762.7,516.9 762.8,517 763,517.1 C763.1,517.1 763.2,517.2 763.4,517.3 C763.5,517.4 763.7,517.5 763.8,517.5 L764.6,535.3 C764.5,535.3 764.3,535.2 764.1,535.1 C764,535 763.9,534.9 763.7,534.9 C763.6,534.8 763.4,534.7 763.3,534.6 C763.2,534.5 763,534.4 762.9,534.3 C762.7,534.2 762.6,534.1 762.5,534 C762.3,533.9 762.1,533.7 762,533.6 Z" style="stroke-width:1.3;stroke:#0a0a0a"/>
<path class="t" d="M769,543.7 C769.9,543.9 772.5,544.5 774.2,544.8 C775.9,545.1 777.7,545.3 779.4,545.5 C781.2,545.7 782.9,545.8 784.6,545.9 C786.4,546 788.1,546 789.8,546 C791.6,546 793.3,545.9 795.1,545.8 C796.8,545.7 799.4,545.5 800.3,545.4 L800.1,558.2 C799.2,558.3 796.7,558.5 795,558.6 C793.3,558.7 791.6,558.8 789.9,558.8 C788.2,558.8 786.5,558.8 784.8,558.7 C783.1,558.6 781.4,558.5 779.7,558.3 C778,558.1 776.3,557.9 774.6,557.6 C772.9,557.3 770.3,556.7 769.5,556.5 Z" style="stroke-width:1.3;stroke:#0a0a0a"/>
<path class="t" d="M807.5,544.2 C807.7,544.1 808.4,543.9 808.9,543.8 C809.4,543.7 809.8,543.5 810.3,543.4 C810.8,543.2 811.3,543.1 811.8,542.9 C812.2,542.7 812.7,542.5 813.2,542.3 C813.7,542.1 814.1,541.8 814.6,541.5 C815.1,541.2 815.8,540.6 816,540.4 L815.5,553.2 C815.3,553.4 814.6,554 814.1,554.3 C813.7,554.6 813.2,554.9 812.7,555.1 C812.3,555.3 811.8,555.5 811.3,555.7 C810.9,555.9 810.4,556 809.9,556.2 C809.5,556.3 809,556.5 808.5,556.6 C808.1,556.7 807.4,556.9 807.1,557 Z" style="stroke-width:1.3;stroke:#0a0a0a"/>
<path class="t" d="M762.4,540.4 C762.4,540.5 762.6,540.7 762.8,540.8 C762.9,540.9 763.1,541 763.2,541.1 C763.3,541.2 763.5,541.3 763.6,541.4 C763.7,541.5 763.9,541.6 764,541.7 C764.2,541.7 764.3,541.8 764.4,541.9 C764.6,542 764.8,542.1 764.8,542.1 L765.4,554.9 C765.3,554.9 765.1,554.8 765,554.7 C764.8,554.6 764.7,554.5 764.6,554.5 C764.4,554.4 764.3,554.3 764.2,554.2 C764,554.1 763.9,554 763.8,553.9 C763.6,553.8 763.5,553.7 763.4,553.6 C763.2,553.5 763,553.3 762.9,553.2 Z" style="stroke-width:1.3;stroke:#0a0a0a"/>
<clipPath id="cpr2"><path d="M754,370.5 V461 A34.2,8 0 0 0 822.4,461 V370.5 Z"/></clipPath>
<path d="M754.7,378.1 V461 A33.5,8 0 0 0 821.7,461 V378.1 Z" fill="#fdfdfd" stroke="none"/>
<path d="M754.7,378.1 A33.5,5.6 0 0 0 821.7,378.1 M754.7,381 A33.5,5.7 0 0 0 821.7,381 M754.7,383.9 A33.5,5.8 0 0 0 821.7,383.9 M754.7,386.8 A33.5,5.9 0 0 0 821.7,386.8 M754.7,389.7 A33.5,5.9 0 0 0 821.7,389.7 M754.7,392.6 A33.5,6 0 0 0 821.7,392.6 M754.7,395.5 A33.5,6.1 0 0 0 821.7,395.5 M754.7,398.4 A33.5,6.2 0 0 0 821.7,398.4 M754.7,401.3 A33.5,6.3 0 0 0 821.7,401.3 M754.7,404.2 A33.5,6.4 0 0 0 821.7,404.2 M754.7,407.1 A33.5,6.4 0 0 0 821.7,407.1 M754.7,433.2 A33.5,7.2 0 0 0 821.7,433.2 M754.7,436.1 A33.5,7.3 0 0 0 821.7,436.1 M754.7,439 A33.5,7.4 0 0 0 821.7,439 M754.7,441.9 A33.5,7.4 0 0 0 821.7,441.9 M754.7,444.8 A33.5,7.5 0 0 0 821.7,444.8 M754.7,447.7 A33.5,7.6 0 0 0 821.7,447.7 M754.7,450.6 A33.5,7.7 0 0 0 821.7,450.6 M754.7,453.5 A33.5,7.8 0 0 0 821.7,453.5 M754.7,456.4 A33.5,7.9 0 0 0 821.7,456.4 M754.7,459.3 A33.5,8 0 0 0 821.7,459.3" fill="none" stroke="#060606" stroke-width="2" clip-path="url(#cpr2)"/>
<path d="M754.7,410 A33.5,6.5 0 0 0 821.7,410 M754.7,412.9 A33.5,6.6 0 0 0 821.7,412.9 M754.7,415.8 A33.5,6.7 0 0 0 821.7,415.8 M754.7,418.7 A33.5,6.8 0 0 0 821.7,418.7 M754.7,421.6 A33.5,6.9 0 0 0 821.7,421.6 M754.7,424.5 A33.5,6.9 0 0 0 821.7,424.5 M754.7,427.4 A33.5,7 0 0 0 821.7,427.4 M754.7,430.3 A33.5,7.1 0 0 0 821.7,430.3" fill="none" stroke="#060606" stroke-width="2.4" clip-path="url(#cpr2)"/>
<path d="M754.7,432 A33.5,7.2 0 0 0 821.7,432 V435.4 A33.5,7.3 0 0 1 754.7,435.4 Z" fill="#060606" stroke="none"/>
<path d="M754.7,378.1 V461 M821.7,378.1 V461" fill="none" stroke="#060606" stroke-width="1.4"/>
<path class="w" d="M756.1,365.4 V370.8 A32,10.8 0 0 0 820.1,370.8 V365.4 Z" style="stroke-width:1.5"/>
<ellipse class="w" cx="788.1" cy="365.4" rx="32" ry="10.8" style="stroke-width:1.5"/>
<ellipse class="l" cx="788.1" cy="367" rx="30.2" ry="8.6" style="stroke-width:1.1"/>
<clipPath id="cpr4"><ellipse cx="788.1" cy="369" rx="29.4" ry="7.2"/></clipPath>
<ellipse class="k" cx="788.1" cy="369" rx="29.4" ry="7.2"/>
<path d="M757.1,354 A31,6.2 0 0 0 819.1,354 M757.1,356.6 A31,6.2 0 0 0 819.1,356.6 M757.1,359.2 A31,6.2 0 0 0 819.1,359.2 M757.1,361.8 A31,6.2 0 0 0 819.1,361.8 M757.1,364.4 A31,6.2 0 0 0 819.1,364.4 M757.1,367 A31,6.2 0 0 0 819.1,367 M757.1,369.6 A31,6.2 0 0 0 819.1,369.6 M757.1,372.2 A31,6.2 0 0 0 819.1,372.2" fill="none" stroke="#fdfdfd" stroke-width=".8" clip-path="url(#cpr4)"/>
<ellipse class="k" cx="789" cy="369.4" rx="7" ry="3.4"/>
<ellipse class="l" cx="790" cy="592.8" rx="27.1" ry="8.5" style="stroke-width:1.3"/>
<ellipse class="l" cx="790" cy="589.2" rx="27.1" ry="8.4" style="stroke-width:1.3"/>
<path class="l" d="M762.9,589.2 V592.8 M817.1,589.2 V592.8"/>
<path class="l" d="M763.6,593.4 C766,596.6 771,598.6 777.4,599.6" style="stroke-width:3"/>
</g>
<!-- nut 170 -->
<g class="thin">
<ellipse class="w" cx="614.2" cy="688.6" rx="5.2" ry="11.8" transform="rotate(-8 614.2 688.6)" style="stroke-width:1.1;stroke:#222"/>
<path class="w" d="M602.4,684.9 l6,-4.8 l6.6,2.8 l1.4,8.8 l-5.2,6.6 l-7.4,-3.2 Z"/>
<ellipse class="l" cx="608.6" cy="690.2" rx="5" ry="6.8" transform="rotate(-10 608.6 690.2)"/>
<ellipse class="l" cx="608.4" cy="690.3" rx="2.5" ry="3.7" transform="rotate(-10 608.4 690.3)"/>
</g>
<!-- labels right -->
<g>
<text x="531.49" y="284.75" font-size="18.7" fill="#0a0a0a" stroke="#0a0a0a" stroke-width=".3" textLength="28.46" lengthAdjust="spacingAndGlyphs">130</text>
<text x="599.77" y="364.85" font-size="18.7" fill="#0a0a0a" stroke="#0a0a0a" stroke-width=".3" textLength="28.08" lengthAdjust="spacingAndGlyphs">120</text>
<text x="713.79" y="301.65" font-size="18.7" fill="#0a0a0a" stroke="#0a0a0a" stroke-width=".3" textLength="28.12" lengthAdjust="spacingAndGlyphs">200</text>
<text x="610.50" y="440.75" font-size="18.7" fill="#0a0a0a" stroke="#0a0a0a" stroke-width=".3" textLength="27.66" lengthAdjust="spacingAndGlyphs">100</text>
<text x="902.43" y="451.65" font-size="18.7" fill="#0a0a0a" stroke="#0a0a0a" stroke-width=".3" textLength="27.90" lengthAdjust="spacingAndGlyphs">180</text>
<text x="598.43" y="721.55" font-size="18.7" fill="#0a0a0a" stroke="#0a0a0a" stroke-width=".3" textLength="28.11" lengthAdjust="spacingAndGlyphs">170</text>
</g>
<!--/PARTS-->
</svg>
</body>
</html>
